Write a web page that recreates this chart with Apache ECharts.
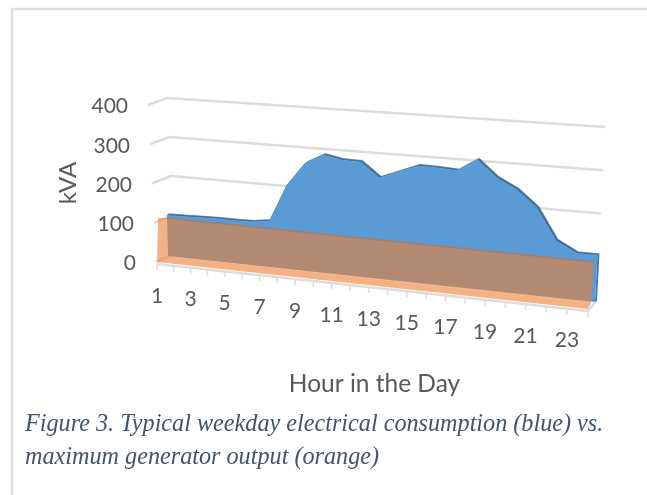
<!DOCTYPE html>
<html>
<head>
<meta charset="utf-8">
<style>html,body{margin:0;padding:0;background:#fff}#main{width:647px;height:495px}</style>
<script src="https://cdn.jsdelivr.net/npm/echarts@6/dist/echarts.min.js"></script>
</head>
<body>
<div id="main"></div>
<script>
var hours = [1,2,3,4,5,6,7,8,9,10,11,12,13,14,15,16,17,18,19,20,21,22,23,24];
var hourLabels = [1,3,5,7,9,11,13,15,17,19,21,23];
var consumption = [104,105,106,107,107,108,114,207,264,288,279,278,243,261,279,278,275,304,265,241,203,131,107,107];
var generator = [110,110,110,110,110,110,110,110,110,110,110,110,110,110,110,110,110,110,110,110,110,110,110,110];
var kvaTicks = [0,100,200,300,400];

var GRID = {left: 100, top: 50, width: 400, height: 200};

// each plane of the 3d box: corners at left/right, value 0 and value max
var planes = {
	wall:   {l0:[175,254], l1:[167,98],  r0:[597,300], r1:[605,127]},
	side:   {l0:[156,262], l1:[148,105], r0:[156,262], r1:[148,105]},
	orFront:{l0:[157,262], l1:[161,102], r0:[588,309], r1:[596,132]},
	orBack: {l0:[168,256], l1:[164,118], r0:[591,303], r1:[601,154]},
	blue:   {l0:[168,256], l1:[164,99],  r0:[595,302], r1:[604,127]},
	blueTop:{l0:[170,254.5], l1:[166,97.5], r0:[597,300.5], r1:[606,125.5]},
	floor:  {l0:[157,264], l1:[157,264], r0:[588,311], r1:[588,311]}
};
var PERSP = 1.13;

function lerp(a, b, t) { return a + (b - a) * t; }

// flat grid pixel -> skewed screen pixel
function project(plane, flat) {
	var u = (flat[0] - GRID.left) / GRID.width;
	var v = (GRID.top + GRID.height - flat[1]) / GRID.height;
	var t = u / (u + PERSP * (1 - u));
	var p = planes[plane];
	var lx = lerp(p.l0[0], p.l1[0], v), ly = lerp(p.l0[1], p.l1[1], v);
	var rx = lerp(p.r0[0], p.r1[0], v), ry = lerp(p.r0[1], p.r1[1], v);
	return [lerp(lx, rx, t), lerp(ly, ry, t)];
}

function pt(api, plane, hourIdx, val) {
	return project(plane, api.coord([hourIdx, val]));
}

function poly(points, fill, stroke, lw) {
	return {type: 'polygon', shape: {points: points},
		style: {fill: fill, stroke: stroke || null, lineWidth: lw || 0}};
}
function seg(a, b, color, lw) {
	return {type: 'line', shape: {x1: a[0], y1: a[1], x2: b[0], y2: b[1]},
		style: {stroke: color, lineWidth: lw}};
}
function label(pos, str, size, align) {
	return {type: 'text', x: pos[0], y: pos[1],
		style: {text: str, fill: '#595959', font: size + 'px Lato', align: align || 'center', verticalAlign: 'middle'}};
}

function drawFrame(params, api) {
	if (params.dataIndex !== 0) return;
	var kids = [], last = hours.length - 1, grey = '#dcdcdc';
	kvaTicks.forEach(function (k) {
		var a = pt(api, 'side', 0, k), b = pt(api, 'wall', 0, k), c = pt(api, 'wall', last, k);
		kids.push(seg(a, b, grey, 2.5), seg(b, c, grey, 2.5));
		kids.push(label([a[0] - 20, a[1] + 1.5], String(k), 21, 'right'));
	});
	var f0 = pt(api, 'floor', 0, 0), f1 = pt(api, 'floor', last, 0);
	kids.push(seg(f0, f1, grey, 2.5));
	kids.push(seg(f1, pt(api, 'wall', last, 0), grey, 2.5));
	hours.forEach(function (h, i) {
		var p = pt(api, 'floor', i, 0);
		kids.push(seg(p, [p[0], p[1] + 6], grey, 1.5));
		if (hourLabels.indexOf(h) >= 0) kids.push(label([p[0], p[1] + 32], String(h), 21));
	});
	return {type: 'group', children: kids};
}

function drawBlue(params, api) {
	if (params.dataIndex !== 0) return;
	var face = [], back = [], base = [];
	consumption.forEach(function (val, i) {
		face.push(pt(api, 'blue', i, val));
		back.push(pt(api, 'blueTop', i, val));
	});
	base = [pt(api, 'blue', hours.length - 1, 0), pt(api, 'blue', 0, 0)];
	var last = hours.length - 1;
	var kids = [];
	kids.push(poly(back.concat(face.slice().reverse()), '#41719c', '#41719c', 0.5));
	kids.push(poly([face[last], back[last], pt(api, 'blueTop', last, 0), base[0]], '#3d78b4'));
	kids.push(poly(face.concat(base), '#5b9bd5'));
	return {type: 'group', children: kids};
}

function drawOrange(params, api) {
	if (params.dataIndex !== 0) return;
	var last = hours.length - 1, fill = 'rgba(237,125,49,0.6)';
	var top = [], bottom = [pt(api, 'orBack', last, 0), pt(api, 'orBack', 0, 0)];
	generator.forEach(function (val, i) { top.push(pt(api, 'orBack', i, val)); });
	var kids = [];
	kids.push(poly(top.concat(bottom), fill));
	kids.push(seg(top[0], top[last], '#a27e69', 1.5));
	kids.push(poly([pt(api, 'orFront', 0, generator[0]), top[0], bottom[1], pt(api, 'orFront', 0, 0)], fill));
	kids.push(poly([bottom[1], bottom[0], pt(api, 'orFront', last, 0), pt(api, 'orFront', 0, 0)], fill));
	return {type: 'group', children: kids};
}

var myChart = echarts.init(document.getElementById('main'));

var option = {
	animation: false,
	backgroundColor: '#fff',
	grid: GRID,
	xAxis: {type: 'category', data: hours, boundaryGap: false, show: false},
	yAxis: {type: 'value', min: 0, max: 400, interval: 100, show: false},
	graphic: [
		{type: 'polyline', shape: {points: [[12,495],[12,9],[647,9]]}, style: {stroke: '#dedede', lineWidth: 2.5, fill: null}},
		{type: 'text', x: 68, y: 183, rotation: Math.PI / 2, style: {text: 'kVA', fill: '#595959', font: '24px Lato', align: 'center', verticalAlign: 'middle'}},
		{type: 'text', x: 374.5, y: 384, style: {text: 'Hour in the Day', fill: '#595959', font: '24.5px Lato', align: 'center', verticalAlign: 'middle'}},
		{type: 'text', x: 25, y: 425, style: {text: 'Figure 3. Typical weekday electrical consumption (blue) vs.', fill: '#44546a', font: 'italic 24.2px "Liberation Serif"', align: 'left', verticalAlign: 'middle'}},
		{type: 'text', x: 25, y: 458, style: {text: 'maximum generator output (orange)', fill: '#44546a', font: 'italic 24.2px "Liberation Serif"', align: 'left', verticalAlign: 'middle'}}
	],
	series: [
		{type: 'custom', data: hours.map(function (h, i) { return [i, 0]; }), renderItem: drawFrame, clip: false, silent: true, z: 1},
		{type: 'custom', data: hours.map(function (h, i) { return [i, consumption[i]]; }), renderItem: drawBlue, clip: false, silent: true, z: 2},
		{type: 'custom', data: hours.map(function (h, i) { return [i, generator[i]]; }), renderItem: drawOrange, clip: false, silent: true, z: 3}
	]
};
myChart.setOption(option);
</script>
</body>
</html>
